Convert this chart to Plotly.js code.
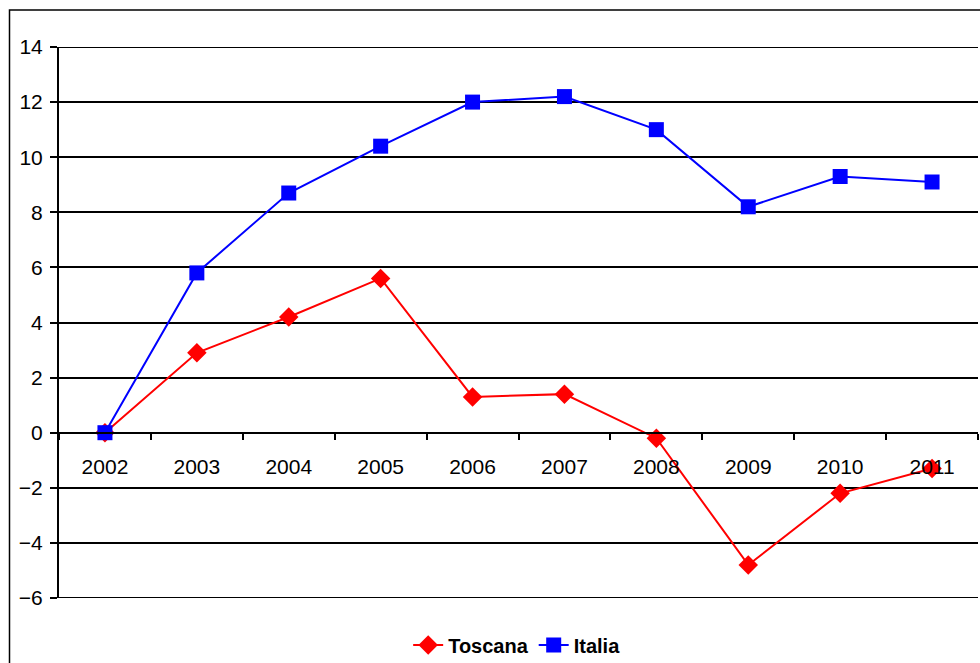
<!DOCTYPE html>
<html>
<head>
<meta charset="utf-8">
<script src="https://cdn.plot.ly/plotly-3.0.1.min.js"></script>
<style>html,body{margin:0;padding:0;background:#fff;}#chart{width:980px;height:663px;}</style>
</head>
<body>
<div id="chart"></div>
<script>
const years = ["2002","2003","2004","2005","2006","2007","2008","2009","2010","2011"];
const toscana = [0, 2.9, 4.2, 5.6, 1.3, 1.4, -0.2, -4.8, -2.2, -1.3];
const italia = [0, 5.8, 8.7, 10.4, 12.0, 12.2, 11.0, 8.2, 9.3, 9.1];
const yTicks = [-6, -4, -2, 0, 2, 4, 6, 8, 10, 12, 14];

const L = 59, R = 2, T = 47, B = 65, W = 980, H = 663;
const pw = W - L - R, ph = H - T - B;

const traces = [
  {x: years, y: toscana, name: "Toscana", type: "scatter", mode: "lines+markers",
   line: {color: "#FF0000", width: 2}, marker: {symbol: "diamond", size: 15, color: "#FF0000"}},
  {x: years, y: italia, name: "Italia", type: "scatter", mode: "lines+markers",
   line: {color: "#0000FF", width: 2}, marker: {symbol: "square", size: 15, color: "#0000FF"}}
];

const edgeLines = [14, -6].map(v => ({type: "line", xref: "paper", yref: "y",
  x0: 0, x1: 1, y0: v, y1: v, line: {color: "#000", width: 2}, layer: "below"}));

const layout = {
  width: W, height: H,
  margin: {l: L, r: R, t: T, b: B, pad: 0, autoexpand: false},
  paper_bgcolor: "#fff", plot_bgcolor: "#fff",
  font: {family: "Liberation Sans, Arial, sans-serif", size: 21, color: "#000"},
  showlegend: true,
  legend: {orientation: "h", x: 0.498, xanchor: "center", y: -0.05, yanchor: "top",
           font: {size: 20, weight: "bold", family: "Liberation Sans, Arial, sans-serif"},
           tracegroupgap: 0},
  xaxis: {type: "category", range: [-0.5, 9.5], anchor: "free", position: 0.3,
          showline: true, linecolor: "#000", linewidth: 2, showgrid: false, zeroline: false,
          ticks: "outside", tickson: "boundaries", ticklen: 6, tickcolor: "#000", tickwidth: 2,
          ticklabelstandoff: 15, fixedrange: true},
  yaxis: {range: [-6, 14], tickvals: yTicks, showline: true, linecolor: "#000", linewidth: 2,
          showgrid: true, gridcolor: "#000", gridwidth: 2, zeroline: false,
          ticks: "outside", ticklen: 7, tickcolor: "#000", tickwidth: 2, ticklabelstandoff: 3},
  shapes: [{type: "rect", xref: "paper", yref: "paper",
            x0: (9.5 - L) / pw, x1: 1.1, y0: -0.3, y1: 1 + (T - 10) / ph,
            line: {color: "#000", width: 1.5}, fillcolor: "rgba(0,0,0,0)", layer: "below"}].concat(edgeLines)
};

Plotly.newPlot("chart", traces, layout, {displayModeBar: false, staticPlot: true});
</script>
</body>
</html>
